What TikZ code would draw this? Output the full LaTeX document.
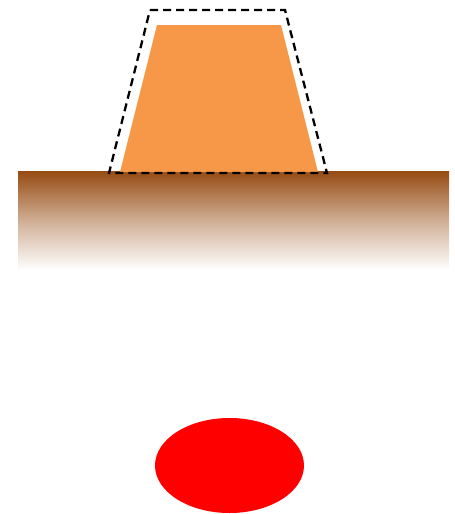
\documentclass[tikz,border=0pt]{standalone}
\usetikzlibrary{shapes.geometric}
\definecolor{groundbrown}{HTML}{964B12}
\definecolor{moundorange}{HTML}{F79748}
\definecolor{spotred}{HTML}{FF0000}
\tikzset{
  outline/.style={draw=black, line width=2.3pt, dash pattern=on 8pt off 5pt},
}
\begin{document}
\begin{tikzpicture}[x=1pt,y=-1pt]
\useasboundingbox (0,0) rectangle (455,514);
% ground
\shade[top color=groundbrown, bottom color=white, middle color=groundbrown!45!white, draw=none] (18,171) rectangle (449,270);
% mound
\fill[moundorange] (157,25) -- (281,25) -- (318,172) -- (120,172) -- cycle;
% dashed outline
\draw[outline] (150,10) -- (285,10) -- (327,173) -- (109,173) -- cycle;
% red ellipse
\fill[spotred] (229.5,465.5) ellipse [x radius=74.5, y radius=47.5];
\end{tikzpicture}
\end{document}
